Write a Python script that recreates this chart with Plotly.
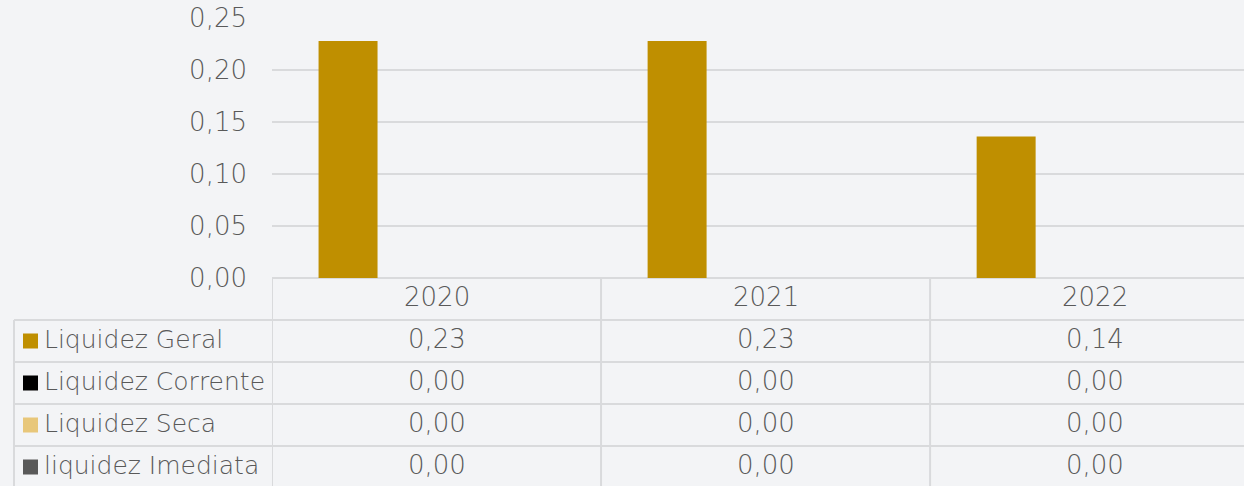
import plotly.graph_objects as go

# data ---------------------------------------------------------------
years = ["2020", "2021", "2022"]
series_names = ["Liquidez Geral", "Liquidez Corrente", "Liquidez Seca", "liquidez Imediata"]
liquidez_geral = [0.228, 0.228, 0.136]
liquidez_corrente = [0.0, 0.0, 0.0]
liquidez_seca = [0.0, 0.0, 0.0]
liquidez_imediata = [0.0, 0.0, 0.0]
series_colors = ["#bf8f00", "#000000", "#e8c77a", "#595959"]
y_ticks = [0, 0.05, 0.10, 0.15, 0.20, 0.25]

all_values = [liquidez_geral, liquidez_corrente, liquidez_seca, liquidez_imediata]

# layout in pixels ---------------------------------------------------
W, H = 1244, 486
L, T, B = 272, 18, 208
plot_h = H - T - B  # 260
axis_y = H - B      # 278
row_h = 42
grid_col = "#d9dadc"
txt_col = "#595959"
FONT = "DejaVu Sans"
NUM_SIZE = 26
TXT_SHIFT = 2  # text sits slightly above the row centre


def py2paper(py):
    return (axis_y - py) / plot_h


def px2paper(px):
    return (px - L) / (W - L)


def fmt(v):
    return f"{v:.2f}".replace(".", ",")


fig = go.Figure()
for name, vals, col in zip(series_names, all_values, series_colors):
    fig.add_trace(go.Bar(x=list(range(len(years))), y=vals, name=name,
                         marker=dict(color=col, line=dict(width=0)),
                         showlegend=False))

shapes = []
annotations = []

# table horizontal lines
for i in range(1, 5):
    y = py2paper(axis_y + i * row_h)
    shapes.append(dict(type="line", xref="paper", yref="paper", x0=px2paper(14), x1=1,
                       y0=y, y1=y, line=dict(color=grid_col, width=2)))
# table vertical lines
bottom = py2paper(H + 5)
for k in range(len(years)):
    shapes.append(dict(type="line", xref="x", yref="paper", x0=k - 0.5, x1=k - 0.5,
                       y0=0, y1=bottom, line=dict(color=grid_col, width=2)))
shapes.append(dict(type="line", xref="paper", yref="paper", x0=px2paper(14), x1=px2paper(14),
                   y0=py2paper(axis_y + row_h), y1=bottom, line=dict(color=grid_col, width=2)))

# header row (years)
for k, yr in enumerate(years):
    annotations.append(dict(x=k, y=py2paper(axis_y + row_h / 2 - TXT_SHIFT), xref="x",
                            yref="paper", text=yr, showarrow=False, xanchor="center",
                            yanchor="middle", font=dict(size=NUM_SIZE)))

# data rows
for r, (name, vals, col) in enumerate(zip(series_names, all_values, series_colors)):
    cy = py2paper(axis_y + row_h * (r + 1.5))
    ty = py2paper(axis_y + row_h * (r + 1.5) - TXT_SHIFT)
    shapes.append(dict(type="rect", xref="paper", yref="paper",
                       x0=px2paper(23), x1=px2paper(38),
                       y0=cy - 7.5 / plot_h, y1=cy + 7.5 / plot_h,
                       fillcolor=col, line=dict(width=0)))
    annotations.append(dict(x=px2paper(42), y=ty, xref="paper", yref="paper", text=name,
                            showarrow=False, xanchor="left", yanchor="middle"))
    for k, v in enumerate(vals):
        annotations.append(dict(x=k, y=ty, xref="x", yref="paper", text=fmt(v),
                                showarrow=False, xanchor="center", yanchor="middle",
                                font=dict(size=NUM_SIZE)))

fig.update_layout(
    width=W, height=H,
    margin=dict(l=L, r=0, t=T, b=B, pad=0),
    paper_bgcolor="#f3f4f6",
    plot_bgcolor="#f3f4f6",
    font=dict(family=FONT, size=25, color=txt_col, weight=200),
    separators=",.",
    barmode="group",
    bargap=0.283,
    bargroupgap=0,
    shapes=shapes,
    annotations=annotations,
    xaxis=dict(range=[-0.5, 2.454], showticklabels=False, showgrid=False, zeroline=False,
               showline=False),
    yaxis=dict(range=[0, 0.25], tickvals=y_ticks, tickformat=".2f", showgrid=True,
               gridcolor=grid_col, gridwidth=2, zeroline=True, zerolinecolor=grid_col,
               zerolinewidth=2, showline=False, ticklabelstandoff=24,
               tickfont=dict(size=NUM_SIZE)),
)

fig.write_html("out.html", config={"displayModeBar": False},
               post_script="document.body.style.margin='0';")
